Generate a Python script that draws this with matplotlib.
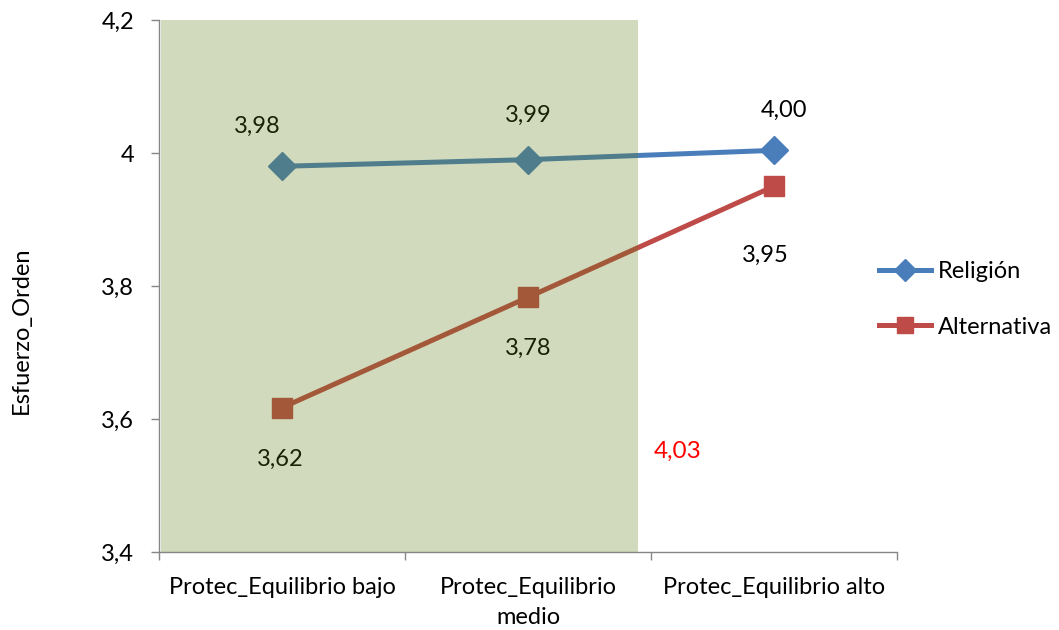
import matplotlib
matplotlib.use("Agg")
import matplotlib.pyplot as plt
from matplotlib.lines import Line2D

plt.rcParams['font.family'] = ['Lato', 'DejaVu Sans']

categories = ["Protec_Equilibrio bajo", "Protec_Equilibrio\nmedio", "Protec_Equilibrio alto"]
religion = [3.98, 3.99, 4.004]
alternativa = [3.617, 3.783, 3.95]
religion_labels = ["3,98", "3,99", "4,00"]
alternativa_labels = ["3,62", "3,78", "3,95"]
yticks = [3.4, 3.6, 3.8, 4.0, 4.2]
ytick_labels = ["3,4", "3,6", "3,8", "4", "4,2"]

blue = "#4A7EBB"
red = "#BE4B48"
axis_gray = "#868686"
fs = 17

fig = plt.figure(figsize=(10.59, 6.30), dpi=100)
ax = fig.add_axes([159 / 1059, 1 - 552 / 630, (897 - 159) / 1059, (552 - 20) / 630])

x = list(range(len(categories)))
ax.plot(x, religion, color=blue, lw=3.6, marker="D", markersize=14, zorder=3)
ax.plot(x, alternativa, color=red, lw=3.6, marker="s", markersize=14.5, zorder=3)

# data labels
rel_off = [(-18, 29), (0, 32), (7, 29)]
alt_off = [(-1, -37), (0, -37), (-6, -50)]
for xi, v, t, o in zip(x, religion, religion_labels, rel_off):
    ax.annotate(t, (xi, v), xytext=o, textcoords="offset points", ha="center",
                va="center", fontsize=fs, color="black", zorder=4)
for xi, v, t, o in zip(x, alternativa, alternativa_labels, alt_off):
    ax.annotate(t, (xi, v), xytext=o, textcoords="offset points", ha="center",
                va="center", fontsize=fs, color="black", zorder=4)

ax.text(1.61, 3.552, "4,03", color="#FF0000", fontsize=fs + 0.5, ha="center", va="center")

# translucent highlight band over the first two groups
ax.axvspan(-0.49, 1.447, color="#5E7B13", alpha=0.28, lw=0, zorder=5)

ax.set_xlim(-0.5, 2.5)
ax.set_ylim(3.4, 4.2)
ax.set_yticks(yticks)
ax.set_yticklabels(ytick_labels, fontsize=fs)
ax.set_xticks([-0.5, 0.5, 1.5, 2.5])
ax.set_xticklabels([])
ax.set_xticks(x, minor=True)
ax.set_xticklabels(categories, minor=True, fontsize=fs, linespacing=1.55)
ax.tick_params(axis="x", which="minor", length=0, pad=18)
ax.tick_params(axis="x", which="major", length=6, color=axis_gray, width=1)
ax.tick_params(axis="y", length=6, color=axis_gray, width=1, pad=12)

for s in ["top", "right"]:
    ax.spines[s].set_visible(False)
for s in ["left", "bottom"]:
    ax.spines[s].set_color(axis_gray)
    ax.spines[s].set_linewidth(1)

fig.text(21 / 1059, 1 - 330 / 630, "Esfuerzo_Orden", rotation=90, ha="center",
         va="center", fontsize=fs)

handles = [
    Line2D([], [], color=blue, lw=3.6, marker="D", markersize=11),
    Line2D([], [], color=red, lw=3.6, marker="s", markersize=12),
]
fig.legend(handles, ["Religión", "Alternativa"], loc="center left",
           bbox_to_anchor=(858 / 1059, 1 - 299.5 / 630), frameon=False,
           fontsize=fs, handlelength=2.2, handletextpad=0.3, labelspacing=1.45)

fig.savefig("out.png", dpi=100)
